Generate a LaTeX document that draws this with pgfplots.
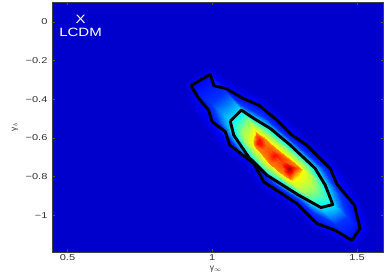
\documentclass[border=0pt]{standalone}
\usepackage{pgfplots}
\pgfplotsset{compat=1.18}
\usepackage{fontspec}
\setmainfont{Liberation Sans}
\definecolor{basebl}{RGB}{0,0,205}
\pgfplotstableread{
x y c
.9012 -.3178 0
.9874 -.2228 0
1.0736 -.3178 0
1.1828 -.3955 0
1.2977 -.5510 0
1.4299 -.7323 0
1.5161 -.9309 0
1.5506 -1.0777 0
1.4989 -1.1727 0
1.3494 -1.0777 0
1.2747 -.9741 0
1.1598 -.8618 0
1.1138 -.7582 0
1.0276 -.6632 0
.9701 -.5423 0
.9127 -.4128 0
.9012 -.3178 0
.9265 -.3299 .125
.9931 -.2712 .125
1.0483 -.3454 .125
1.1598 -.4301 .125
1.2747 -.5855 .125
1.4069 -.7582 .125
1.4908 -.9482 .125
1.5104 -1.0691 .125
1.4816 -1.1296 .125
1.3609 -1.0432 .125
1.2920 -.9396 .125
1.1770 -.8273 .125
1.1426 -.7323 .125
1.0598 -.6373 .125
.9989 -.5164 .125
.9529 -.3955 .125
.9265 -.3299 .125
.9943 -.4215 .17
1.0466 -.3636 .17
1.0955 -.4223 .17
1.1799 -.4906 .17
1.2719 -.6114 .17
1.3811 -.7582 .17
1.4403 -.8964 .17
1.4633 -1.0069 .17
1.4282 -1.0450 .17
1.3495 -.9871 .17
1.2949 -.9180 .17
1.2115 -.8360 .17
1.1656 -.7625 .17
1.0926 -.6676 .17
1.0449 -.5726 .17
1.0133 -.4905 .17
.9943 -.4215 .17
1.0621 -.5130 .34
1.1000 -.4560 .34
1.1426 -.4991 .34
1.2000 -.5510 .34
1.2690 -.6373 .34
1.3552 -.7582 .34
1.3897 -.8446 .34
1.4161 -.9447 .34
1.3747 -.9603 .34
1.3380 -.9309 .34
1.2977 -.8964 .34
1.2460 -.8446 .34
1.1885 -.7927 .34
1.1253 -.6978 .34
1.0908 -.6287 .34
1.0736 -.5855 .34
1.0621 -.5130 .34
1.1035 -.5700 .52
1.1253 -.5147 .52
1.1598 -.5510 .52
1.2000 -.5907 .52
1.2517 -.6546 .52
1.3173 -.7427 .52
1.3472 -.8014 .52
1.3518 -.8636 .52
1.3207 -.8843 .52
1.2920 -.8618 .52
1.2598 -.8325 .52
1.2230 -.7893 .52
1.1862 -.7496 .52
1.1449 -.6839 .52
1.1219 -.6425 .52
1.1104 -.6149 .52
1.1035 -.5700 .52
1.1366 -.6170 .62
1.1465 -.5617 .62
1.1736 -.5924 .62
1.2000 -.6238 .62
1.2379 -.6684 .62
1.2879 -.7317 .62
1.3122 -.7668 .62
1.2993 -.8000 .62
1.2775 -.8249 .62
1.2552 -.8065 .62
1.2304 -.7800 .62
1.2046 -.7465 .62
1.1835 -.7150 .62
1.1595 -.6743 .62
1.1458 -.6522 .62
1.1398 -.6370 .62
1.1366 -.6170 .62
1.1449 -.6287 .75
1.1518 -.5734 .75
1.1770 -.6028 .75
1.2000 -.6321 .75
1.2345 -.6719 .75
1.2805 -.7289 .75
1.3035 -.7582 .75
1.2862 -.7841 .75
1.2667 -.8100 .75
1.2460 -.7927 .75
1.2230 -.7669 .75
1.2000 -.7358 .75
1.1828 -.7064 .75
1.1632 -.6719 .75
1.1518 -.6546 .75
1.1472 -.6425 .75
1.1449 -.6287 .75
1.1560 -.6220 .86
1.1640 -.6080 .86
1.1860 -.6430 .78
1.2040 -.6640 .80
1.2170 -.6820 .86
1.2440 -.7200 .81
1.2680 -.7520 .93
1.2700 -.7620 .93
1.2600 -.7680 .93
1.2400 -.7420 .81
1.2240 -.7200 .80
1.2090 -.6980 .86
1.1960 -.6800 .80
1.1800 -.6580 .78
1.1640 -.6380 .86
1.1560 -.6300 .86
1.1560 -.6220 .86
1.1560 -.6260 .87
1.1640 -.6230 .87
1.1830 -.6505 .78
1.2000 -.6720 .80
1.2130 -.6900 .87
1.2420 -.7310 .81
1.2640 -.7600 1
1.2650 -.7620 1
1.2640 -.7600 1
1.2420 -.7310 .81
1.2280 -.7090 .80
1.2130 -.6900 .87
1.2000 -.6720 .80
1.1830 -.6505 .78
1.1640 -.6230 .87
1.1560 -.6260 .87
1.1560 -.6260 .87
}\field
\begin{document}
\begin{tikzpicture}
\path[use as bounding box] (-52bp,-25bp) rectangle (336bp,252bp);
\begin{axis}[
  at={(0,0)}, anchor=south west,
  scale only axis, width=331.5bp, height=249.5bp,
  xmin=0.4466, xmax=1.591, ymin=-1.19, ymax=0.10,
  axis background/.style={fill=basebl},
  axis line style={line width=0.7pt, draw=black!75},
  tick align=inside, tick style={line width=0.4pt, black!70},
  major tick length=3bp,
  xtick={0.5,1,1.5}, xticklabels={0.5,1,1.5},
  ytick={-1,-0.8,-0.6,-0.4,-0.2,0},
  yticklabels={−1,−0.8,−0.6,−0.4,−0.2,0},
  tick label style={font=\fontsize{8.5bp}{9bp}\selectfont, xscale=1.3, black!80},
  xticklabel style={yshift=1bp},
  colormap={fieldmap}{
    rgb255(0)=(0,0,205) rgb255(12)=(0,0,255) rgb255(36)=(0,255,255)
    rgb255(62)=(255,255,0) rgb255(87)=(255,0,0) rgb255(100)=(125,0,0)},
  point meta min=0, point meta max=1.01,
  clip=true,
]
\addplot[surf, shader=interp, mesh/rows=9, mesh/cols=17, point meta=explicit] table[x=x,y=y,meta=c] {\field};
\addplot[black, line width=2.9bp, line join=round] coordinates {
(.9265,-.330)(.993,-.271)(1.005,-.330)(1.048,-.345)(1.106,-.396)(1.160,-.430)(1.223,-.508)(1.275,-.586)(1.326,-.637)(1.407,-.758)(1.430,-.839)(1.491,-.948)(1.510,-1.069)(1.482,-1.130)(1.424,-1.078)(1.361,-1.043)(1.292,-.940)(1.177,-.827)(1.143,-.732)(1.060,-.637)(1.045,-.568)(.999,-.516)(.987,-.456)(.953,-.396)(.9265,-.330)};
\addplot[black, line width=2.9bp, line join=round] coordinates {
(1.062,-.513)(1.100,-.456)(1.143,-.499)(1.200,-.551)(1.269,-.637)(1.355,-.758)(1.390,-.845)(1.416,-.945)(1.375,-.960)(1.298,-.896)(1.189,-.793)(1.125,-.698)(1.074,-.586)(1.062,-.513)};
\node[white, font=\fontsize{12bp}{13bp}\selectfont, xscale=1.25] at (axis cs:0.545,0.013) {X};
\node[white, font=\fontsize{12bp}{13bp}\selectfont, xscale=1.25] at (axis cs:0.545,-0.053) {LCDM};
\end{axis}
\node[font=\fontsize{8.5bp}{9bp}\selectfont, black!80] at (164bp,-17bp) {γ$_{\infty}$};
\node[font=\fontsize{8.5bp}{9bp}\selectfont, black!80, rotate=90] at (-37bp,125bp) {γ$_{b}$};
\end{tikzpicture}
\end{document}
